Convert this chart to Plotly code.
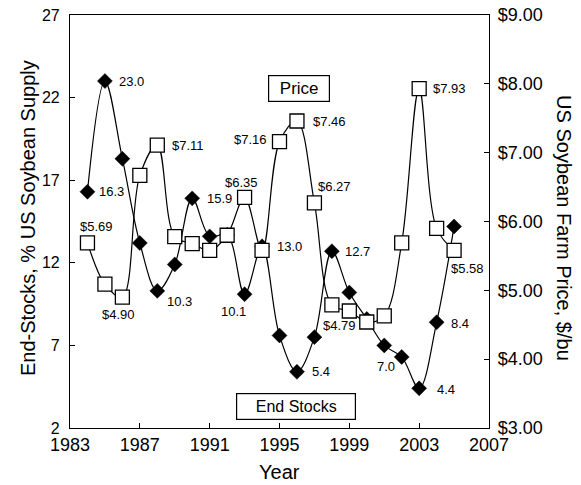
import plotly.graph_objects as go

years = list(range(1984, 2006))
end_stocks = [16.3, 23.0, 18.3, 13.2, 10.3, 11.9, 15.9, 13.6, 13.7, 10.1, 13.0,
              7.6, 5.4, 7.5, 12.7, 10.2, 8.6, 7.0, 6.3, 4.4, 8.4, 14.2]
price = [5.69, 5.09, 4.90, 6.67, 7.11, 5.78, 5.68, 5.58, 5.80, 6.35, 5.58,
         7.16, 7.46, 6.27, 4.79, 4.70, 4.54, 4.63, 5.69, 7.93, 5.90, 5.58]

x_ticks = [1983, 1987, 1991, 1995, 1999, 2003, 2007]
y_ticks = [2, 7, 12, 17, 22, 27]
y2_ticks = [3, 4, 5, 6, 7, 8, 9]
y2_tick_text = ["$3.00", "$4.00", "$5.00", "$6.00", "$7.00", "$8.00", "$9.00"]

stock_label_years = [1984, 1985, 1988, 1990, 1993, 1994, 1996, 1998, 2001, 2003, 2004]
price_label_years = [1984, 1986, 1988, 1993, 1995, 1996, 1997, 1998, 2003, 2005]

# label placement styles: (xanchor, xshift, yshift)
stock_label_pos = {
    1984: ("left", 10, 0), 1985: ("left", 12, 0), 1988: ("left", 8, -11),
    1990: ("left", 13, 0), 1993: ("center", -11, -17), 1994: ("left", 13, 0),
    1996: ("left", 13, 0), 1998: ("left", 11, 0), 2001: ("center", 2, -21),
    2003: ("left", 16, -1), 2004: ("left", 12, -1),
}
price_label_pos = {
    1984: ("center", 9, 16), 1986: ("center", -4, -17), 1988: ("left", 13, 0),
    1993: ("center", -3, 15), 1995: ("right", -11, 2), 1996: ("left", 14, 0),
    1997: ("center", 20, 16), 1998: ("center", 8, -21), 2003: ("left", 12, 0),
    2005: ("center", 13, -18),
}

FONT = "Liberation Sans, Arial, Helvetica, sans-serif"

fig = go.Figure()
fig.add_trace(go.Scatter(
    x=years, y=end_stocks, mode="lines+markers", name="End Stocks",
    line=dict(color="black", width=1.2, shape="spline", smoothing=1.0),
    marker=dict(symbol="diamond", size=11.5, color="black",
                line=dict(color="black", width=0.5)),
    yaxis="y", showlegend=False,
))
fig.add_trace(go.Scatter(
    x=years, y=price, mode="lines+markers", name="Price",
    line=dict(color="black", width=1.2, shape="spline", smoothing=1.0),
    marker=dict(symbol="square", size=14, color="white",
                line=dict(color="black", width=1.3)),
    yaxis="y2", showlegend=False,
))

annotations = []
for yr in stock_label_years:
    v = end_stocks[years.index(yr)]
    xa, xs, ys = stock_label_pos[yr]
    annotations.append(dict(x=yr, y=v, xref="x", yref="y", text=f"{v:.1f}",
                            showarrow=False, xanchor=xa, yanchor="middle",
                            xshift=xs, yshift=ys,
                            font=dict(family=FONT, size=13, color="black")))
for yr in price_label_years:
    v = price[years.index(yr)]
    xa, xs, ys = price_label_pos[yr]
    annotations.append(dict(x=yr, y=v, xref="x", yref="y2", text=f"${v:.2f}",
                            showarrow=False, xanchor=xa, yanchor="middle",
                            xshift=xs, yshift=ys,
                            font=dict(family=FONT, size=13, color="black")))

# series name boxes
annotations.append(dict(x=0.5465, y=0.823, xref="paper", yref="paper", text="Price",
                        showarrow=False, xanchor="center", yanchor="middle",
                        width=54, height=19, borderpad=3, bordercolor="black",
                        borderwidth=1.2, bgcolor="white",
                        font=dict(family=FONT, size=17, color="black")))
annotations.append(dict(x=0.5394, y=0.0516, xref="paper", yref="paper", text="End Stocks",
                        showarrow=False, xanchor="center", yanchor="middle",
                        width=112, height=19, borderpad=3, bordercolor="black",
                        borderwidth=1.2, bgcolor="white",
                        font=dict(family=FONT, size=16, color="black")))

# axis titles
annotations.append(dict(x=-0.1002, y=0.5085, xref="paper", yref="paper",
                        text="End-Stocks, % US Soybean Supply", textangle=-90,
                        showarrow=False, xanchor="center", yanchor="middle",
                        font=dict(family=FONT, size=20, color="black")))
annotations.append(dict(x=1.1790, y=0.484, xref="paper", yref="paper",
                        text="US Soybean Farm Price, $/bu", textangle=90,
                        showarrow=False, xanchor="center", yanchor="middle",
                        font=dict(family=FONT, size=20, color="black")))
annotations.append(dict(x=0.5, y=-0.1065, xref="paper", yref="paper",
                        text="Year", showarrow=False, xanchor="center", yanchor="middle",
                        font=dict(family=FONT, size=20, color="black")))

axis_common = dict(showgrid=False, zeroline=False, showline=True, linecolor="black",
                   linewidth=1.2, ticks="inside", ticklen=5, tickcolor="black",
                   tickwidth=1.2, automargin=False, ticklabeloverflow="allow")

# the page body adds an 8px offset, so the figure is 8px smaller on each axis
fig.update_layout(
    width=573, height=477,
    margin=dict(l=62, r=92, t=7, b=57, autoexpand=False),
    paper_bgcolor="white", plot_bgcolor="white",
    font=dict(family=FONT, color="black"),
    xaxis=dict(range=[1983, 2007], tickvals=x_ticks, mirror=True,
               tickfont=dict(family=FONT, size=18), **axis_common),
    yaxis=dict(range=[2, 27], tickvals=y_ticks, ticklabelstandoff=6,
               tickfont=dict(family=FONT, size=16), **axis_common),
    yaxis2=dict(range=[3, 9], tickvals=y2_ticks, ticktext=y2_tick_text,
                overlaying="y", side="right", ticklabelstandoff=4,
                tickfont=dict(family=FONT, size=18), **axis_common),
    annotations=annotations,
)

fig.write_html("out.html")
